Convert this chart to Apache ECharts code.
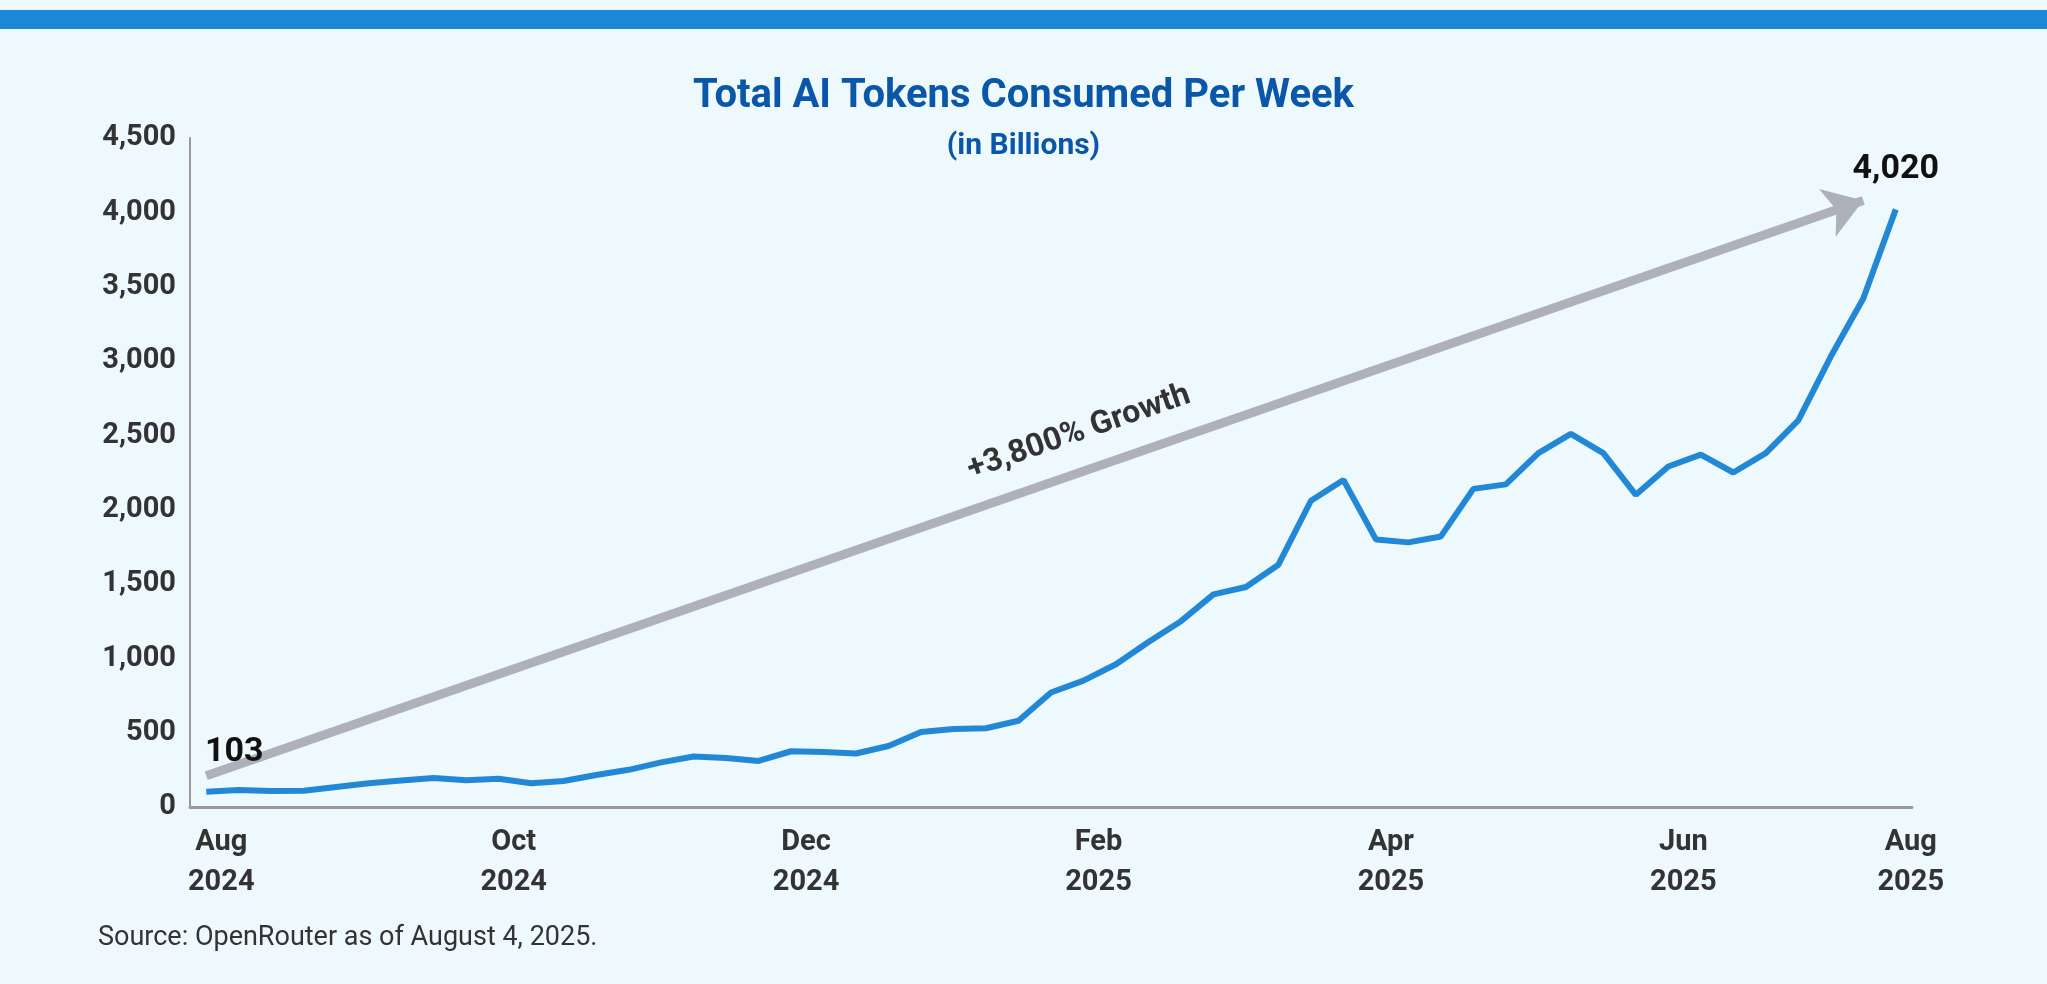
<!DOCTYPE html>
<html>
<head>
<meta charset="utf-8">
<script src="https://cdn.jsdelivr.net/npm/echarts@6/dist/echarts.min.js"></script>
<style>
html,body{margin:0;padding:0;background:#eef9fd;}
#chart{width:2047px;height:984px;}
</style>
</head>
<body>
<div id="chart"></div>
<script>
// weekly points, Aug 2024 - Aug 2025
var weeks = [];
for (var i = 0; i < 53; i++) weeks.push('w' + i);
var tokens = [103,115,108,110,135,160,178,195,180,190,160,175,215,250,300,340,330,310,375,370,360,410,505,525,530,580,770,850,960,1110,1250,1430,1480,1630,2060,2200,1800,1780,1820,2140,2170,2380,2510,2380,2100,2290,2370,2250,2380,2600,3030,3420,4020];
var tickIndex = [0,9,18,27,36,45,52];
var tickLabels = ['Aug\n2024','Oct\n2024','Dec\n2024','Feb\n2025','Apr\n2025','Jun\n2025','Aug\n2025'];
var arrowFrom = [0,210];
var arrowTo = [51,4080];

var font = "'Liberation Sans Narrow','Roboto',sans-serif";
var chart = echarts.init(document.getElementById('chart'));
var option = {
    backgroundColor: '#eef9fd',
    animation: false,
    title: {
        text: 'Total AI Tokens Consumed Per Week',
        subtext: '(in Billions)',
        left: 'center',
        top: 72,
        itemGap: 14,
        textStyle: {fontFamily: font, fontSize: 40, fontWeight: 'bold', color: '#0a56a8'},
        subtextStyle: {fontFamily: font, fontSize: 30, fontWeight: 'bold', color: '#0a56a8'}
    },
    grid: {left: 190, right: 135, top: 138, bottom: 177},
    xAxis: {
        type: 'category',
        data: weeks,
        boundaryGap: true,
        axisLine: {lineStyle: {color: '#999', width: 3}},
        axisTick: {show: false},
        axisLabel: {
            interval: function (idx) { return tickIndex.indexOf(idx) >= 0; },
            formatter: function (v, idx) { return tickLabels[tickIndex.indexOf(idx)]; },
            fontFamily: font, fontSize: 29, fontWeight: 'bold', color: '#333',
            lineHeight: 40, margin: 16, padding: [0,0,0,30]
        }
    },
    yAxis: {
        type: 'value',
        min: 0, max: 4500, interval: 500,
        axisLine: {show: true, lineStyle: {color: '#999', width: 2}},
        splitLine: {show: false},
        axisLabel: {
            fontFamily: font, fontSize: 29, fontWeight: 'bold', color: '#333', margin: 14,
            formatter: function (v) { return v.toLocaleString('en-US'); }
        }
    },
    series: [{
        type: 'line',
        data: tokens,
        symbol: 'none',
        lineStyle: {color: '#2288d6', width: 6},
        markPoint: {
            silent: true,
            symbol: 'circle',
            symbolSize: 1,
            itemStyle: {color: 'rgba(0,0,0,0)'},
            label: {
                show: true, position: 'top', distance: 22,
                fontFamily: font, fontSize: 34, fontWeight: 'bold', color: '#111',
                formatter: function (p) { return p.value.toLocaleString('en-US'); }
            },
            data: [
                {coord: [0, tokens[0]], value: tokens[0], label: {offset: [28, 0]}},
                {coord: [tokens.length - 1, tokens[tokens.length - 1]], value: tokens[tokens.length - 1]}
            ]
        },
        markLine: {
            silent: true,
            symbol: ['none', 'arrow'],
            symbolSize: [38, 38],
            lineStyle: {color: '#aeb0bb', width: 9, type: 'solid'},
            label: {
                show: true, position: 'middle', distance: 22,
                formatter: '+3,800% Growth',
                fontFamily: font, fontSize: 32, fontWeight: 'bold', color: '#333',
                padding: [0, 0, 0, 120]
            },
            data: [[{coord: arrowFrom}, {coord: arrowTo}]]
        }
    }],
    graphic: [
        {type: 'rect', shape: {x: 0, y: 10, width: 2047, height: 19}, style: {fill: '#1e88d8'}},
        {type: 'text', left: 98, top: 925, style: {text: 'Source: OpenRouter as of August 4, 2025.', fontFamily: font, fontSize: 27, fill: '#333'}}
    ]
};
chart.setOption(option);
</script>
</body>
</html>
